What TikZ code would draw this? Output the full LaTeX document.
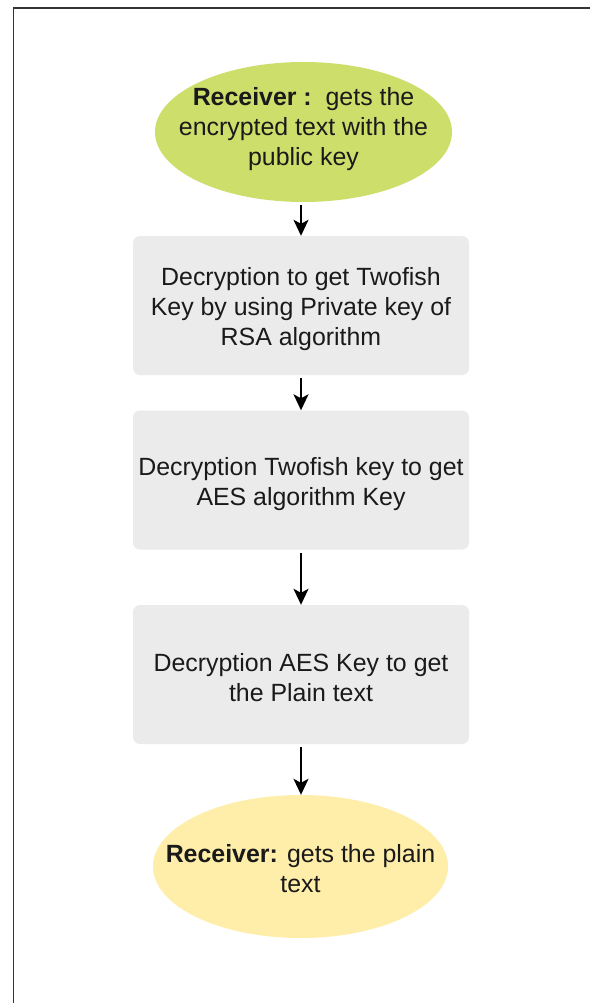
\documentclass[tikz,border=0pt]{standalone}
\usepackage{fontspec}
\setmainfont{Liberation Sans}
\usetikzlibrary{shapes.geometric,arrows.meta}
\definecolor{termgreen}{HTML}{CDDE6B}
\definecolor{termyellow}{HTML}{FEEEAA}
\definecolor{boxgray}{HTML}{EBEBEB}
\definecolor{txt}{HTML}{1A1A1A}
\tikzset{
  lbl/.style={font=\fontsize{24.9}{30}\selectfont, text=txt, align=center, inner sep=0pt},
  term/.style={ellipse, draw=none, inner sep=0pt},
  stepbox/.style={rectangle, rounded corners=7pt, fill=boxgray, draw=none,
    minimum width=336pt, minimum height=139pt, inner sep=0pt},
  flow/.style={line width=2pt, black, -{Stealth[length=16pt,width=15pt,inset=4pt]},
    shorten <=3pt},
  frame/.style={line width=1.4pt, black!80}
}
\begin{document}
\begin{tikzpicture}[x=1pt,y=-1pt]
\useasboundingbox (0,0) rectangle (590,1003);
\fill[white] (0,0) rectangle (590,1003);
\coordinate (fbl) at (13.5,1003);
\coordinate (ftl) at (13.5,8);
\coordinate (ftr) at (590,8);
\draw[frame] (fbl) -- (ftl) -- (ftr);

\node[term, fill=termgreen, minimum width=297pt, minimum height=140pt,
  label={[lbl,yshift=3pt]center:{\textbf{Receiver :}\ \ gets the\\encrypted text with the\\public key}}]
  (start) at (303.5,132) {};
\node[stepbox, label={[lbl,yshift=-4pt]center:{Decryption to get Twofish\\Key by using Private key of\\RSA algorithm}}]
  (s1) at (301,305.5) {};
\node[stepbox, label={[lbl,yshift=-4pt]center:{Decryption Twofish key to get\\AES algorithm Key}}]
  (s2) at (301,480) {};
\node[stepbox, label={[lbl,yshift=-3pt]center:{Decryption AES Key to get\\the Plain text}}]
  (s3) at (301,674.5) {};
\node[term, fill=termyellow, minimum width=295pt, minimum height=143pt,
  label={[lbl,yshift=-2pt]center:{\textbf{Receiver:} gets the plain\\text}}]
  (end) at (300.5,866.5) {};

\draw[flow] (s1.north |- start.south) -- (s1.north);
\draw[flow] (s1.south) -- (s2.north);
\draw[flow] (s2.south) -- (s3.north);
\draw[flow] (s3.south) -- (s3.south |- end.north);
\end{tikzpicture}
\end{document}
